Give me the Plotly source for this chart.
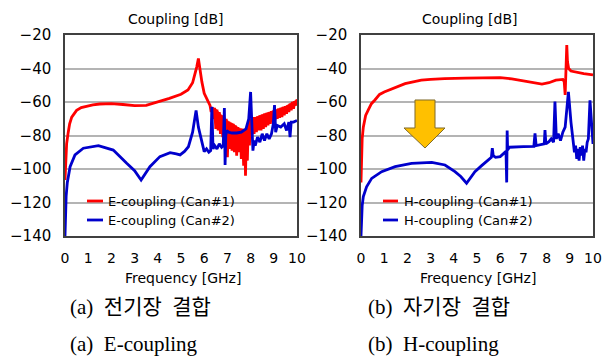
import plotly.graph_objects as go

W, H = 609, 357

# ---------------- data ----------------
# (a) E-coupling, Can#1 (red)
e1_f = [0, 0.03, 0.07, 0.14, 0.2, 0.29, 0.4, 0.5, 0.7, 0.93, 1.2, 1.5, 2.0, 2.5, 3.0, 3.5,
        4.0, 4.5, 5.0, 5.3, 5.5, 5.6, 5.68, 5.75, 5.82, 5.9, 6.0, 6.1, 6.2,
        6.25, 6.30, 6.35, 6.40, 6.45, 6.50, 6.55, 6.60, 6.65, 6.70, 6.75, 6.80, 6.85, 6.90,
        6.95, 7.00, 7.05, 7.10, 7.15, 7.20, 7.25, 7.30, 7.35, 7.40, 7.45, 7.50, 7.55, 7.60,
        7.65, 7.70, 7.75, 7.78, 7.82, 7.86, 7.90, 7.95, 8.00, 8.05, 8.10, 8.15, 8.20, 8.25,
        8.30, 8.35, 8.40, 8.45, 8.50, 8.55, 8.60, 8.65, 8.70, 8.75, 8.80, 8.85, 8.90, 8.95,
        9.00, 9.05, 9.10, 9.15, 9.20, 9.25, 9.30, 9.35, 9.40, 9.45, 9.50, 9.55, 9.60, 9.65,
        9.70, 9.75, 9.80, 9.85, 9.90, 9.95, 10.00]
e1_db = [-106.6, -95, -85, -78, -73, -69, -66.5, -65, -63.3, -62.4, -61.7, -61.2, -61, -61.5, -62.2, -62,
         -60, -57.8, -55.4, -52.8, -48.5, -44, -39, -34, -42, -48, -54.8, -58, -61,
         -62, -66, -63, -70, -63.5, -76, -64.5, -77, -66, -79, -68, -81, -69, -84,
         -70, -93, -72, -88, -72.5, -89, -73, -90, -74, -92, -75, -90, -76, -94,
         -76, -98, -77, -104, -75, -95, -73, -86, -70, -80, -69, -79, -69, -78,
         -68.5, -77, -68, -77, -67.5, -76, -67, -75, -66.5, -74, -66, -73, -65.5, -72,
         -65, -71, -64.5, -70, -64, -69.5, -63.5, -69, -63, -68, -62.5, -67, -62, -66,
         -61, -65, -60, -64, -59.5, -62, -58.5]

# envelope of the dense (solid-looking) red oscillation band, 6.3-10 GHz
e1_band_f = [6.3, 6.5, 6.8, 7.0, 7.25, 7.5, 7.75, 8.0, 8.25, 8.5, 9.0, 9.5, 10.0]
e1_band_hi = [-63, -64, -68.5, -71, -73, -75.5, -76.5, -70, -69, -67.5, -65, -62.5, -58.5]
e1_band_lo = [-65, -74, -79, -84, -86, -86, -88, -79, -77, -75.5, -71, -66.5, -61.5]

# (a) E-coupling, Can#2 (blue)
e2_f = [0, 0.02, 0.05, 0.1, 0.22, 0.43, 0.79, 1.44, 2.08, 2.66, 3.0, 3.28, 3.4, 3.66, 4.09,
        4.53, 4.8, 4.96, 5.15, 5.32, 5.5, 5.65, 5.75, 5.9, 6.0, 6.1, 6.2, 6.28, 6.33, 6.38,
        6.45, 6.55, 6.65, 6.75, 6.82, 6.87, 6.9, 6.93, 6.97, 7.05, 7.2, 7.4, 7.6, 7.8, 7.92,
        8.0, 8.05, 8.1, 8.15, 8.2, 8.3, 8.4, 8.5, 8.6, 8.7, 8.8, 8.9, 8.98, 9.03, 9.08, 9.15,
        9.3, 9.45, 9.55, 9.65, 9.7, 9.75, 9.85, 10.0]
e2_db = [-140, -125, -116, -108, -98.6, -91.6, -87.6, -86.1, -88.7, -96.6, -101, -106.6, -104, -98.6, -92.6,
         -90.2, -91, -91.6, -89.5, -86.7, -78, -65, -75, -84, -89.6, -88, -90, -89, -62.8, -88,
         -86, -88, -85, -87, -86, -63.6, -97.6, -80, -77, -78, -78.5, -78.5, -78, -76, -70,
         -54, -75, -89, -83, -86, -81, -84, -79, -83, -79, -82, -79, -73, -61.8, -78, -74,
         -75, -73, -77, -72, -81, -72, -72, -71]

# (b) H-coupling, Can#1 (red)
h1_f = [0, 0.02, 0.05, 0.1, 0.2, 0.32, 0.45, 0.6, 0.8, 1.0, 1.2, 1.5, 1.9, 2.3, 2.6, 3.0, 3.6,
        4.5, 5.0, 6.0, 6.5, 7.0, 7.5, 7.8, 8.1, 8.4, 8.7, 8.76, 8.8, 8.84, 8.87, 8.9, 8.95,
        9.05, 9.3, 9.6, 10.0]
h1_db = [-108, -92, -82, -75, -68, -64.5, -61, -58.8, -55.5, -54, -52.8, -51, -49, -47.8, -47, -46.5, -46,
         -45.8, -45.8, -45.5, -46.2, -47.5, -48.8, -49.3, -48.5, -47, -46.5, -48, -55.8, -42, -26, -36, -40,
         -41.5, -42.3, -43, -43.8]

# (b) H-coupling, Can#2 (blue)
h2_f = [0, 0.02, 0.05, 0.1, 0.24, 0.46, 0.89, 1.47, 2.18, 3.05, 3.62, 4.05, 4.3, 4.55, 4.7,
        4.91, 5.2, 5.5, 5.62, 5.66, 5.7, 5.8, 6.0, 6.25, 6.28, 6.3, 6.32, 6.4, 6.7, 7.0, 7.45,
        7.5, 7.55, 7.7, 7.9, 7.93, 7.97, 8.1, 8.2, 8.3, 8.36, 8.42, 8.5, 8.6, 8.7, 8.8, 8.94,
        9.05, 9.15, 9.2, 9.25, 9.3, 9.35, 9.4, 9.45, 9.5, 9.55, 9.6, 9.65, 9.7, 9.75, 9.8,
        9.87, 9.93, 10.0]
h2_db = [-140, -128, -122, -116.5, -110.6, -105.6, -101.6, -98.6, -96.6, -96, -97.6, -101.6, -104.5, -108.5, -105.6,
         -101.6, -98, -94.6, -93, -87.5, -92, -93, -92.6, -89.5, -108, -77, -88.6, -87, -86.7, -86.7, -86.5,
         -78.7, -86, -85.7, -85, -76.7, -85, -83.7, -82, -84, -59.8, -82, -79, -83, -78, -75, -54,
         -72, -85, -90, -86, -94, -88, -95, -87, -92, -86, -95, -88, -90, -84, -82,
         -59, -72, -85]

y_ticks = [-140, -120, -100, -80, -60, -40, -20]
x_ticks = list(range(0, 11))

# ---------------- layout helpers (pixel -> paper) ----------------
def px(x):
    return x / W

def py(y):
    return 1 - y / H

RED = "#FF0000"
BLUE = "#0000CC"
LW = 2.8
FONT = "DejaVu Sans, Verdana, sans-serif"
SERIF = "Liberation Serif, Times New Roman, Noto Sans CJK KR, serif"

fig = go.Figure()
band_x = e1_band_f + e1_band_f[::-1]
band_y = e1_band_hi + e1_band_lo[::-1]
fig.add_trace(go.Scatter(x=band_x, y=band_y, mode="lines", fill="toself", fillcolor=RED,
                         line=dict(color=RED, width=0.5), xaxis="x", yaxis="y",
                         showlegend=False, hoverinfo="skip"))
fig.add_trace(go.Scatter(x=e1_f, y=e1_db, mode="lines", line=dict(color=RED, width=LW),
                         xaxis="x", yaxis="y", showlegend=False))
fig.add_trace(go.Scatter(x=e2_f, y=e2_db, mode="lines", line=dict(color=BLUE, width=LW),
                         xaxis="x", yaxis="y", showlegend=False))
fig.add_trace(go.Scatter(x=h1_f, y=h1_db, mode="lines", line=dict(color=RED, width=LW),
                         xaxis="x2", yaxis="y2", showlegend=False))
fig.add_trace(go.Scatter(x=h2_f, y=h2_db, mode="lines", line=dict(color=BLUE, width=LW),
                         xaxis="x2", yaxis="y2", showlegend=False))

xcommon = dict(range=[0, 10], tickvals=x_ticks, showgrid=False, zeroline=False,
               showline=True, mirror=True, linecolor="#404040", linewidth=1.5,
               ticks="", ticklabelstandoff=8, tickfont=dict(family=FONT, size=14, color="#000"),
               automargin=False, fixedrange=True)
ycommon = dict(range=[-140, -20], tickvals=y_ticks, showgrid=True, gridcolor="#B4B4B4", gridwidth=1.5,
               zeroline=False, showline=True, mirror=True, linecolor="#404040", linewidth=1.5,
               ticks="", ticklabelstandoff=9, tickfont=dict(family=FONT, size=15, color="#000"),
               automargin=False, fixedrange=True)

ydom = [py(236), py(35)]
fig.update_layout(
    width=W, height=H, margin=dict(l=0, r=0, t=0, b=0),
    paper_bgcolor="white", plot_bgcolor="white", showlegend=False,
    xaxis=dict(domain=[px(65), px(297)], anchor="y", **xcommon),
    yaxis=dict(domain=ydom, anchor="x", **ycommon),
    xaxis2=dict(domain=[px(361), px(593)], anchor="y2", **xcommon),
    yaxis2=dict(domain=ydom, anchor="x2", **ycommon),
)

ann = []
def text(x, y, s, size, family=FONT, xanchor="center"):
    ann.append(dict(x=px(x), y=py(y), xref="paper", yref="paper", text=s, showarrow=False,
                    xanchor=xanchor, yanchor="middle", font=dict(family=family, size=size, color="#000")))

text(176, 19, "Coupling [dB]", 14)
text(470, 19, "Coupling [dB]", 14)
text(183, 278, "Frequency [GHz]", 14)
text(478, 278, "Frequency [GHz]", 14)

# legends (manual, to match the short key lines)
shapes = []
def key(x0, x1, y, color):
    shapes.append(dict(type="line", xref="paper", yref="paper", x0=px(x0), x1=px(x1),
                       y0=py(y), y1=py(y), line=dict(color=color, width=LW)))

key(87, 103, 201, RED); key(87, 103, 220, BLUE)
text(106, 201, "E-coupling (Can#1)", 13, xanchor="left")
text(106, 220, "E-coupling (Can#2)", 13, xanchor="left")
key(383, 398, 201, RED); key(383, 398, 220, BLUE)
text(402, 201, "H-coupling (Can#1)", 13, xanchor="left")
text(402, 220, "H-coupling (Can#2)", 13, xanchor="left")

# captions
text(68, 307, "(a)\u00a0 전기장\u00a0 결합", 21, SERIF, "left")
text(68, 344, "(a)\u00a0 E-coupling", 21, SERIF, "left")
text(366, 307, "(b)\u00a0 자기장\u00a0 결합", 21, SERIF, "left")
text(366, 344, "(b)\u00a0 H-coupling", 21, SERIF, "left")

# down arrow
pts = [(415, 100), (435, 100), (435, 128), (445, 128), (425, 148), (404, 128), (415, 128)]
path = "M " + " L ".join(f"{px(a):.5f},{py(b):.5f}" for a, b in pts) + " Z"
shapes.append(dict(type="path", xref="paper", yref="paper", path=path,
                   fillcolor="#FFC000", line=dict(color="#7F6A2A", width=1)))

fig.update_layout(annotations=ann, shapes=shapes)
fig.write_html("out.html")
